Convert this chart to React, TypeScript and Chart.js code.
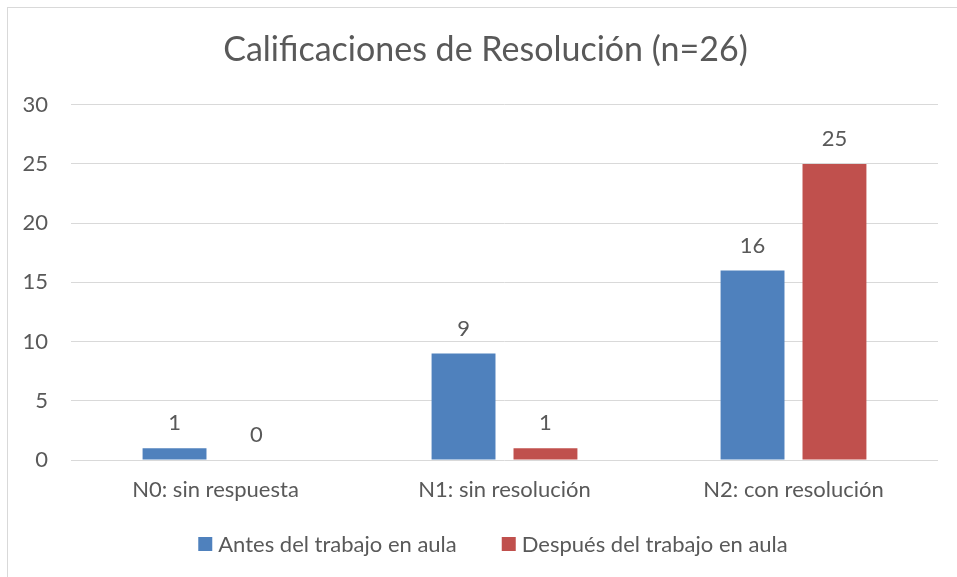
import { useEffect, useRef } from "react";
import { Chart, registerables } from "chart.js";
Chart.register(...registerables);

const titleText = "Calificaciones de Resolución (n=26)";
const categories = ["N0: sin respuesta", "N1: sin resolución", "N2: con resolución"];
const seriesNames = ["Antes del trabajo en aula", "Después del trabajo en aula"];
const antes = [1, 9, 16];
const despues = [0, 1, 25];
const seriesColors = ["#4F81BD", "#C0504D"];
const yMin = 0;
const yMax = 30;
const yStep = 5;

const FONT = "Lato";
const TEXT = "#595959";
const GRID = "#D9D9D9";

const frame = {
  id: "frame",
  beforeDraw(chart: any) {
    const { ctx, width, height } = chart;
    ctx.save();
    ctx.fillStyle = "#ffffff";
    ctx.fillRect(0, 0, width, height);
    ctx.strokeStyle = GRID;
    ctx.lineWidth = 1;
    ctx.strokeRect(7.5, 7.5, width + 20, height + 20);
    ctx.restore();
  },
};

const dataLabels = {
  id: "dataLabels",
  afterDatasetsDraw(chart: any) {
    const { ctx } = chart;
    ctx.save();
    ctx.font = `22px ${FONT}`;
    ctx.fillStyle = TEXT;
    ctx.textAlign = "center";
    ctx.textBaseline = "middle";
    chart.data.datasets.forEach((ds: any, i: number) => {
      const meta = chart.getDatasetMeta(i);
      meta.data.forEach((el: any, j: number) => {
        ctx.fillText(String(ds.data[j]), el.x, el.y - 25);
      });
    });
    ctx.restore();
  },
};

const bottomLegend = {
  id: "bottomLegend",
  afterDraw(chart: any) {
    const { ctx } = chart;
    ctx.save();
    ctx.font = `22px ${FONT}`;
    ctx.textBaseline = "middle";
    ctx.textAlign = "left";
    const box = 14;
    const gap = 6;
    const itemGap = 45;
    const items = chart.data.datasets.map((ds: any) => ({
      text: ds.label,
      color: ds.backgroundColor,
      w: box + gap + ctx.measureText(ds.label).width,
    }));
    const total = items.reduce((s: number, it: any) => s + it.w, 0) + itemGap * (items.length - 1);
    let x = 493 - total / 2;
    const cy = 544;
    items.forEach((it: any) => {
      ctx.fillStyle = it.color;
      ctx.fillRect(x, cy - box / 2, box, box);
      ctx.fillStyle = TEXT;
      ctx.fillText(it.text, x + box + gap, cy + 1);
      x += it.w + itemGap;
    });
    ctx.restore();
  },
};

export default function App() {
  const ref = useRef<HTMLCanvasElement>(null);
  useEffect(() => {
    const chart = new Chart(ref.current!, {
      type: "bar",
      data: {
        labels: categories,
        datasets: [
          { label: seriesNames[0], data: antes, backgroundColor: seriesColors[0] },
          { label: seriesNames[1], data: despues, backgroundColor: seriesColors[1] },
        ],
      },
      options: {
        responsive: false,
        animation: false,
        devicePixelRatio: 1,
        layout: { padding: { left: 20, right: 6, top: 0, bottom: 60 } },
        datasets: { bar: { categoryPercentage: 0.567, barPercentage: 0.78 } },
        plugins: {
          legend: { display: false },
          tooltip: { enabled: false },
          title: {
            display: true,
            text: titleText,
            color: TEXT,
            font: { family: FONT, size: 34, weight: "normal" },
            padding: { top: 30, bottom: 34 },
          },
        },
        scales: {
          x: {
            grid: { display: false, drawTicks: false },
            border: { display: false },
            ticks: { color: TEXT, font: { family: FONT, size: 22 }, padding: 17, maxRotation: 0 },
            afterFit(scale: any) {
              scale.height = 57;
            },
          },
          y: {
            min: yMin,
            max: yMax,
            ticks: { stepSize: yStep, color: TEXT, font: { family: FONT, size: 22 }, padding: 23 },
            grid: { color: GRID, drawTicks: false, lineWidth: 1 },
            border: { display: false },
            afterFit(scale: any) {
              scale.width = 51;
            },
          },
          yPad: {
            type: "linear",
            position: "right",
            display: true,
            grid: { display: false, drawTicks: false },
            border: { display: false },
            ticks: { display: false },
            afterFit(scale: any) {
              scale.width = 13;
            },
          },
        },
      },
      plugins: [frame, dataLabels, bottomLegend],
    });
    return () => chart.destroy();
  }, []);
  return (
    <div style={{ position: "absolute", left: 0, top: 0 }}>
      <canvas ref={ref} width={957} height={577} style={{ display: "block" }} />
    </div>
  );
}
